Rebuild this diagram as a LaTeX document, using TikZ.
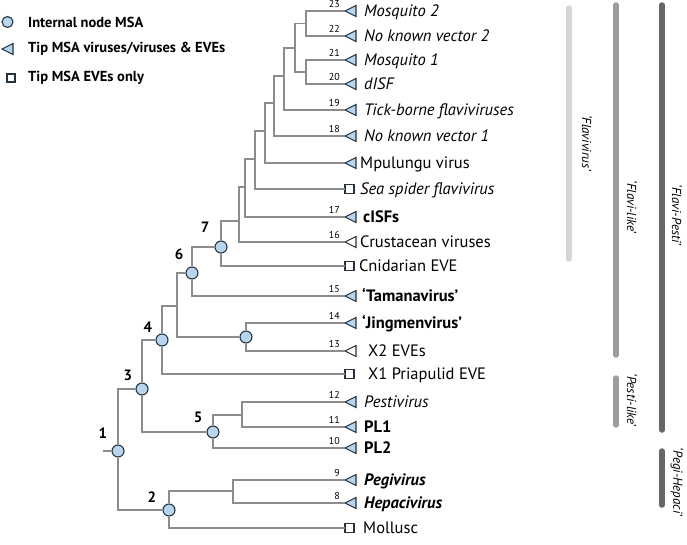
\documentclass[tikz,border=0pt]{standalone}
\usepackage{fontspec}
\setmainfont{PT Sans}
\definecolor{branch}{HTML}{8C8C8C}
\definecolor{tipblue}{HTML}{B7D5EE}
\definecolor{mkline}{HTML}{26323E}
\definecolor{barA}{HTML}{D6D6D6}
\definecolor{barB}{HTML}{A09C9C}
\definecolor{barC}{HTML}{6A6567}
\tikzset{
  br/.style={draw=branch, line width=1.4pt},
  mk/.style={draw=mkline, line width=1.1pt, line join=miter},
  inode/.style={circle, draw=mkline, fill=tipblue, line width=1.1pt, minimum size=12pt, inner sep=0pt},
  lab/.style={font=\fontsize{16.5}{18}\selectfont, anchor=base west, inner sep=0pt},
  num/.style={font=\fontsize{10}{12}\selectfont, anchor=base east, inner sep=0pt},
  nlab/.style={font=\bfseries\fontsize{15}{17}\selectfont, inner sep=0pt},
  barline/.style={line width=5.5pt, line cap=round},
  blab/.style={font=\itshape\fontsize{13}{15}\selectfont, rotate=-90, inner sep=0pt},
  leg/.style={font=\bfseries\fontsize{14.5}{17}\selectfont, anchor=west, inner sep=0pt},
  tipT/.pic={\draw[mk, fill=tipblue] (0,0) -- (11,-5.5) -- (11,5.5) -- cycle;},
  tipW/.pic={\draw[mk, fill=white] (0,0) -- (11,-5.5) -- (11,5.5) -- cycle;},
  tipS/.pic={\draw[mk, fill=white] (0,-4.5) rectangle (9,4.5);}
}
% name, y, marker, number, text x, text
\newcommand\numleaf[6]{%
  \coordinate (#1) at (345,#2);
  \pic at (#1) {#3};
  \node[num] (#1n) at (340,#2-3.5) {#4};
  \node[lab] (#1t) at (#5+2,#2+5.5) {#6};
}
\newcommand\plainleaf[5]{%
  \coordinate (#1) at (345,#2);
  \pic at (#1) {#3};
  \node[lab] (#1t) at (#4+2,#2+5.5) {#5};
}
\begin{document}
\begin{tikzpicture}[x=1pt,y=-1pt]
\useasboundingbox (0,0) rectangle (687,545);
% ---- leaves
\numleaf{e23}{11}{tipT}{23}{362}{\itshape Mosquito 2}
\numleaf{e22}{36}{tipT}{22}{362}{\itshape No known vector 2}
\numleaf{e21}{60}{tipT}{21}{362}{\itshape Mosquito 1}
\numleaf{e20}{84}{tipT}{20}{362}{\itshape dISF}
\numleaf{e19}{110}{tipT}{19}{362}{\itshape Tick-borne flaviviruses}
\numleaf{e18}{136}{tipT}{18}{362}{\itshape No known vector 1}
\plainleaf{eMp}{163}{tipT}{358}{Mpulungu virus}
\plainleaf{eSS}{189}{tipS}{358}{\itshape Sea spider flavivirus}
\numleaf{e17}{217}{tipT}{17}{361}{\bfseries cISFs}
\numleaf{e16}{242}{tipW}{16}{358}{Crustacean viruses}
\plainleaf{eCn}{266}{tipS}{357}{Cnidarian EVE}
\numleaf{e15}{296}{tipT}{15}{360}{\bfseries ‘Tamanavirus’}
\numleaf{e14}{323}{tipT}{14}{360}{\bfseries ‘Jingmenvirus’}
\numleaf{e13}{351}{tipW}{13}{366}{X2 EVEs}
\plainleaf{ePr}{374}{tipS}{366}{X1 Priapulid EVE}
\numleaf{e12}{402}{tipT}{12}{362}{\itshape Pestivirus}
\numleaf{e11}{427}{tipT}{11}{362}{\bfseries PL1}
\numleaf{e10}{448}{tipT}{10}{362}{\bfseries PL2}
\numleaf{e9}{480}{tipT}{9}{362}{\bfseries\itshape Pegivirus}
\numleaf{e8}{503}{tipT}{8}{362}{\bfseries\itshape Hepacivirus}
\plainleaf{eMo}{528}{tipS}{361}{Mollusc}
% ---- internal nodes
\coordinate (A) at (306,23.5);
\coordinate (B) at (306,72);
\coordinate (C) at (295,48);
\coordinate (D) at (284,76);
\coordinate (E) at (274,103);
\coordinate (F) at (265,131);
\coordinate (G) at (255,159);
\coordinate (H) at (245,187);
\coordinate (I) at (239,221);
\coordinate (K) at (177,306);
\coordinate (L) at (242,415);
\coordinate (M) at (233,491);
\coordinate (root) at (103,451);
\node[inode] (N7) at (221,247) {};
\node[inode] (N6) at (192,273) {};
\node[inode] (J) at (246,337) {};
\node[inode] (N4) at (162,340) {};
\node[inode] (N5) at (213,432) {};
\node[inode] (N3) at (142,389) {};
\node[inode] (N2) at (169,510) {};
\node[inode] (N1) at (118,451) {};
% ---- branches
\draw[br] (A) |- (e23); \draw[br] (A) |- (e22);
\draw[br] (B) |- (e21); \draw[br] (B) |- (e20);
\draw[br] (C) |- (A); \draw[br] (C) |- (B);
\draw[br] (D) |- (C); \draw[br] (D) |- (e19);
\draw[br] (E) |- (D); \draw[br] (E) |- (e18);
\draw[br] (F) |- (E); \draw[br] (F) |- (eMp);
\draw[br] (G) |- (F); \draw[br] (G) |- (eSS);
\draw[br] (H) |- (G); \draw[br] (H) |- (e17);
\draw[br] (I) |- (H); \draw[br] (I) |- (e16);
\draw[br] (N7) |- (I); \draw[br] (N7) |- (eCn);
\draw[br] (N6) |- (N7); \draw[br] (N6) |- (e15);
\draw[br] (J) |- (e14); \draw[br] (J) |- (e13);
\draw[br] (K) |- (N6); \draw[br] (K) |- (J);
\draw[br] (N4) |- (K); \draw[br] (N4) |- (ePr);
\draw[br] (L) |- (e12); \draw[br] (L) |- (e11);
\draw[br] (N5) |- (L); \draw[br] (N5) |- (e10);
\draw[br] (N3) |- (N4); \draw[br] (N3) |- (N5);
\draw[br] (M) |- (e9); \draw[br] (M) |- (e8);
\draw[br] (N2) |- (M); \draw[br] (N2) |- (eMo);
\draw[br] (N1) |- (N3); \draw[br] (N1) |- (N2);
\draw[br] (root) -- (N1);
% ---- node numbers
\node[nlab] (l1) at (103,433) {1};
\node[nlab] (l2) at (152,497) {2};
\node[nlab] (l3) at (128,375) {3};
\node[nlab] (l4) at (148,327) {4};
\node[nlab] (l5) at (198,417) {5};
\node[nlab] (l6) at (179,254) {6};
\node[nlab] (l7) at (205,227) {7};
% ---- bars
\coordinate (bA1) at (569,8); \coordinate (bA2) at (569,259);
\coordinate (bB1) at (616,5); \coordinate (bB2) at (616,355);
\coordinate (bB3) at (616,378); \coordinate (bB4) at (616,425);
\coordinate (bC1) at (662,5); \coordinate (bC2) at (662,430);
\coordinate (bC3) at (662,451); \coordinate (bC4) at (662,505);
\draw[barline, barA] (bA1) -- (bA2);
\draw[barline, barB] (bB1) -- (bB2);
\draw[barline, barB] (bB3) -- (bB4);
\draw[barline, barC] (bC1) -- (bC2);
\draw[barline, barC] (bC3) -- (bC4);
\node[blab] (tA) at (587,143) {‘Flavivirus’};
\node[blab] (tB) at (632,207) {‘Flavi-like’};
\node[blab] (tC) at (677,215) {‘Flavi-Pesti’};
\node[blab] (tD) at (632,400) {‘Pesti-like’};
\node[blab] (tE) at (677,482) {‘Pegi-Hepaci’};
% ---- legend
\node[inode, minimum size=11pt] (g1) at (7.5,22) {};
\draw[mk, fill=tipblue] (2,49) -- (13,43.5) -- (13,54.5) -- cycle;
\draw[mk, fill=white] (7,74) rectangle (15,82);
\node[leg] (g1t) at (28,22) {Internal node MSA};
\node[leg] (g2t) at (28,49) {Tip MSA viruses/viruses \& EVEs};
\node[leg] (g3t) at (28,78) {Tip MSA EVEs only};
\end{tikzpicture}
\end{document}
